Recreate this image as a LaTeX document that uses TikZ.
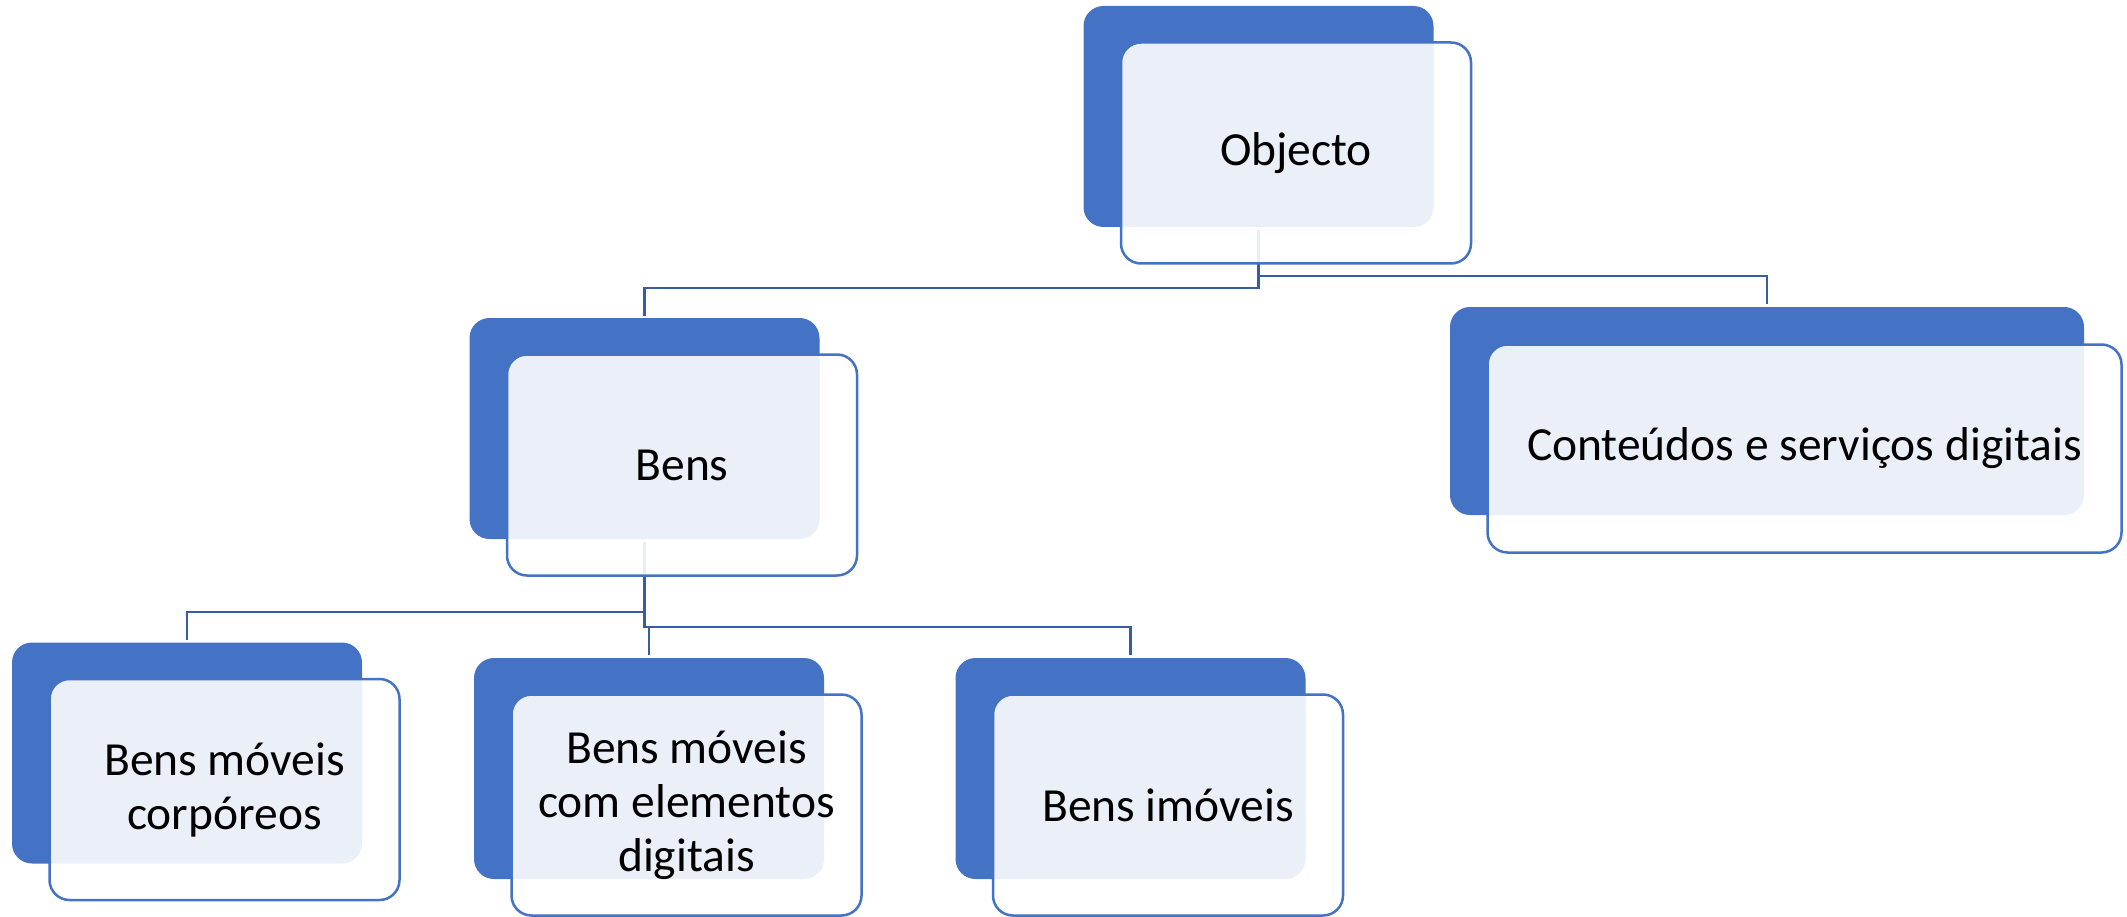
\documentclass[tikz,border=0pt]{standalone}
\usepackage{fontspec}
\setmainfont{Carlito}
\usetikzlibrary{calc}
\pgfdeclarelayer{background}
\pgfsetlayers{background,main}
\definecolor{accent}{HTML}{4472C4}
\definecolor{connblue}{RGB}{55,92,165}
\tikzset{
  dkbox/.style={rectangle, rounded corners=20pt, fill=accent,
    minimum width=350pt, minimum height=221pt, inner sep=0pt, outer sep=0pt},
  ltbox/.style={rectangle, rounded corners=20pt, fill=white, fill opacity=0.89,
    text opacity=1, draw=accent, line width=2.5pt,
    minimum width=350pt, minimum height=221pt, inner sep=0pt, outer sep=0pt,
    align=center, font=\fontsize{47.5}{54}\selectfont},
  widebox/.style={minimum width=634pt, minimum height=208pt},
  link/.style={draw=connblue, line width=2.2pt},
}
\begin{document}
\begin{tikzpicture}[x=1pt,y=-1pt]
\useasboundingbox (0,0) rectangle (2127,917);

% top level
\node[dkbox] (objD) at (1258.5,116.5) {};
\node[ltbox] (objF) at ($(objD)+(37.5,36.5)$) {Objecto};

% second level
\node[dkbox] (bensD) at (644.5,428.5) {};
\node[ltbox] (bensF) at ($(bensD)+(37.5,36.5)$) {Bens};

\node[dkbox,widebox] (digD) at (1767,411) {};
\node[ltbox,widebox] (digF) at ($(digD)+(37.5,37.5)$) {Conteúdos e serviços digitais};

% third level
\node[dkbox] (corpD) at (187,753) {};
\node[ltbox] (corpF) at ($(corpD)+(37.5,36.5)$) {Bens móveis\\corpóreos};

\node[dkbox] (eleD) at (649,768.5) {};
\node[ltbox] (eleF) at ($(eleD)+(37.5,36.5)$) {Bens móveis\\com elementos\\digitais};

\node[dkbox] (imoD) at (1130.5,768.5) {};
\node[ltbox] (imoF) at ($(imoD)+(37.5,36.5)$) {Bens imóveis};

% connectors, kept beneath the translucent boxes
\begin{pgfonlayer}{background}
\draw[link] ([yshift=-3pt]objD.south) -- ([yshift=-3pt]objD.south |- 0,285)
  -| ([yshift=2pt]bensD.north);
\draw[link] ([yshift=-3pt]objD.south) -- ([yshift=-3pt]objD.south |- 0,273)
  -| ([yshift=3pt]digD.north);
\draw[link] ([yshift=-3pt]bensD.south) -- ([yshift=-3pt]bensD.south |- 0,609)
  -| ([yshift=3pt]corpD.north);
\draw[link] ([yshift=-3pt]bensD.south) -- ([yshift=-3pt]bensD.south |- 0,624)
  -| ([yshift=3pt]eleD.north);
\draw[link] ([yshift=-3pt]bensD.south) -- ([yshift=-3pt]bensD.south |- 0,624)
  -| ([yshift=3pt]imoD.north);
\end{pgfonlayer}
\end{tikzpicture}
\end{document}
